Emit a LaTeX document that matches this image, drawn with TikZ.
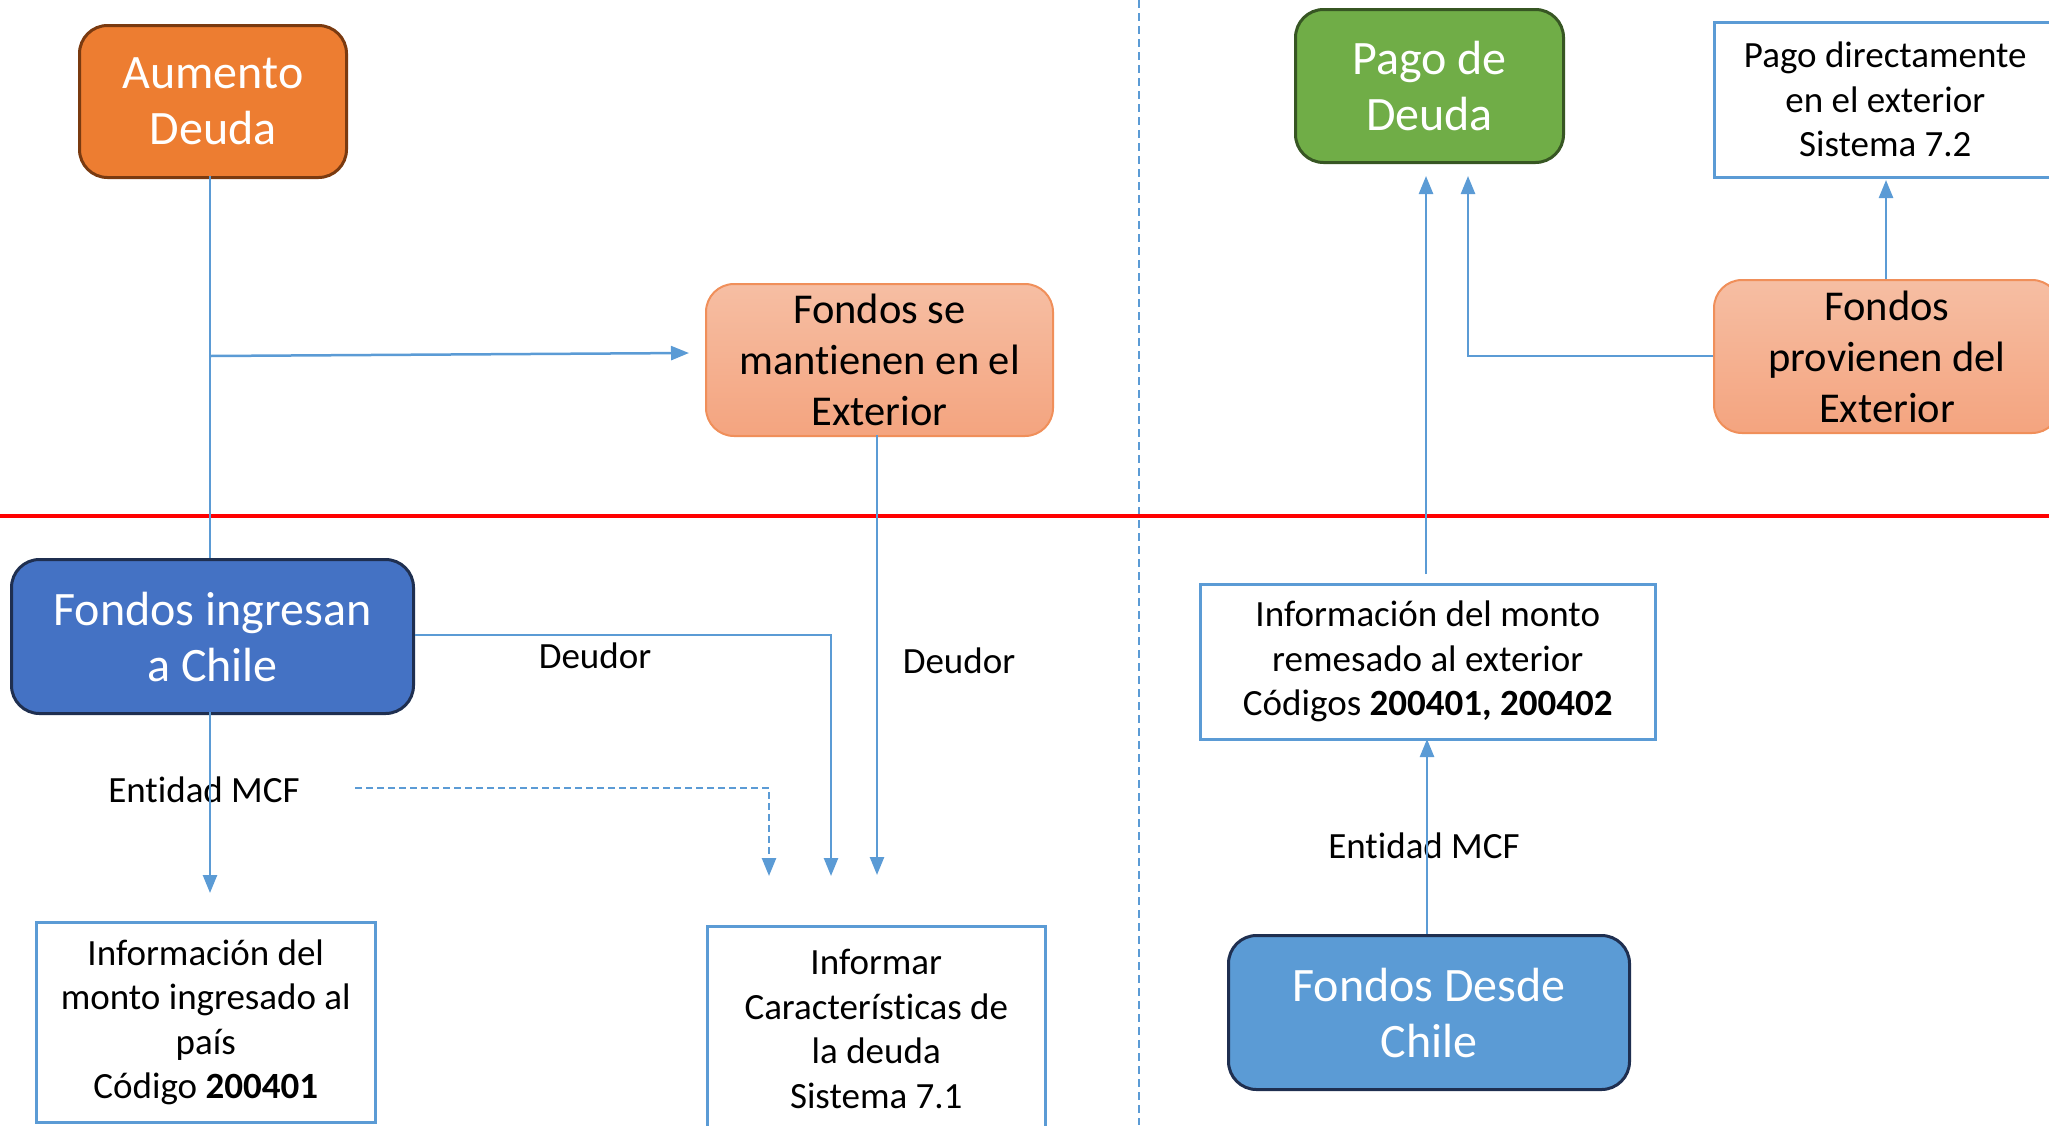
\documentclass[tikz,border=0pt]{standalone}
\usepackage{fontspec}
\setmainfont{Carlito}[Ligatures={NoCommon}]
\usetikzlibrary{arrows.meta}
\definecolor{lineblue}{HTML}{5B9BD5}
\definecolor{aumfill}{HTML}{ED7D31}
\definecolor{aumdraw}{HTML}{7A3A10}
\definecolor{pagofill}{HTML}{70AD47}
\definecolor{pagodraw}{HTML}{375623}
\definecolor{fifill}{HTML}{4472C4}
\definecolor{navy}{HTML}{1F2F50}
\definecolor{fdcfill}{HTML}{5B9BD5}
\definecolor{salmtop}{HTML}{F6BEA3}
\definecolor{salmbot}{HTML}{F4A47F}
\definecolor{salmdraw}{HTML}{F08F5A}
\begin{document}
\begin{tikzpicture}[x=1pt,y=-1pt,
  bigbox/.style={draw, line width=3pt, rounded corners=28pt, text=white,
    font=\fontsize{48}{56}\selectfont, align=center, inner sep=0pt, anchor=north west},
  salmbox/.style={draw=salmdraw, line width=2pt, rounded corners=28pt, top color=salmtop, bottom color=salmbot,
    font=\fontsize{42.5}{51}\selectfont, align=center, inner sep=0pt, anchor=north west},
  wbox/.style={draw=lineblue, line width=2.5pt, fill=white,
    font=\fontsize{37}{44.5}\selectfont, align=center, inner sep=0pt, anchor=north west},
  lbl/.style={font=\fontsize{37}{44.5}\selectfont, inner sep=0pt},
  cline/.style={draw=lineblue, line width=2.5pt},
  arr/.style={cline, -{Triangle[length=18pt,width=14pt]}},
  darr/.style={arr, dash pattern=on 7pt off 4pt}
]
\useasboundingbox (0,0) rectangle (2049,1125);
\clip (0,0) rectangle (2049,1125);

% separators
\coordinate (sepT) at (1139,0);
\coordinate (sepB) at (1139,1125);
\draw[lineblue, line width=1.5pt, dash pattern=on 8pt off 5pt] (sepT) -- (sepB);
\coordinate (redL) at (0,516);
\coordinate (redR) at (2049,516);
\draw[red, line width=4.5pt] (redL) -- (redR);

% nodes
\node[bigbox, fill=aumfill, draw=aumdraw, minimum width=267pt, minimum height=152pt] (aum) at (78,24) {Aumento\\Deuda};
\node[salmbox, minimum width=347pt, minimum height=152pt] (fsm) at (705,283) {Fondos se\\mantienen en el\\Exterior};
\node[bigbox, fill=pagofill, draw=pagodraw, minimum width=268pt, minimum height=153pt] (pago) at (1294,8) {Pago de\\Deuda};
\node[wbox, minimum width=342pt, minimum height=155pt] (pde) at (1713,21) {Pago directamente\\en el exterior\\Sistema 7.2};
\node[salmbox, minimum width=346pt, minimum height=153pt] (fpe) at (1713,279) {Fondos\\provienen del\\Exterior};
\node[bigbox, fill=fifill, draw=navy, minimum width=402pt, minimum height=154pt] (fi) at (10,558) {Fondos ingresan\\a Chile};
\node[wbox, minimum width=455pt, minimum height=155pt] (rem) at (1199,583) {Información del monto\\remesado al exterior\\Códigos \textbf{200401, 200402}};
\node[bigbox, fill=fdcfill, draw=navy, minimum width=401pt, minimum height=154pt] (fdc) at (1227,934) {Fondos Desde\\Chile};
\node[wbox, minimum width=339pt, minimum height=200pt] (ing) at (35,921) {Información del\\monto ingresado al\\país\\Código \textbf{200401}};
\node[wbox, minimum width=338pt, minimum height=205pt] (inf) at (706,925) {Informar\\Características de\\la deuda\\Sistema 7.1};

% labels
\node[lbl] (deu1) at (595,656) {Deudor};
\node[lbl] (deu2) at (959,661) {Deudor};
\node[lbl] (mcf1) at (204,790) {Entidad MCF};
\node[lbl] (mcf2) at (1424,846) {Entidad MCF};

% coordinates for connector ends
\coordinate (aumS) at (210,176);
\coordinate (fiN) at (210,558);
\coordinate (fiS) at (210,712);
\coordinate (aumJ) at (210,356);
\coordinate (fsmTip) at (689,353);
\coordinate (ingTip) at (210,893);
\coordinate (fsmS) at (877,435);
\coordinate (fsmDown) at (877,875);
\coordinate (fiBend) at (831,635);
\coordinate (fiTip) at (831,876);
\coordinate (dStart) at (355,788);
\coordinate (dBend) at (769,788);
\coordinate (dTip) at (769,876);
\coordinate (remUp) at (1426,574);
\coordinate (pagoTip1) at (1426,176);
\coordinate (fpeBend) at (1468,356);
\coordinate (pagoTip2) at (1468,176);
\coordinate (fpeN) at (1886,279);
\coordinate (pdeTip) at (1886,180);
\coordinate (fdcN) at (1427,934);
\coordinate (remTip) at (1427,739);

% connectors
\draw[cline] (aumS) -- (fiN);
\draw[arr] (aumJ) -- (fsmTip);
\draw[arr] (fiS) -- (ingTip);
\draw[arr] (fsmS) -- (fsmDown);
\draw[arr] (fi.east |- fiBend) -- (fiBend) -- (fiTip);
\draw[darr] (dStart) -- (dBend) -- (dTip);
\draw[arr] (remUp) -- (pagoTip1);
\draw[arr] (fpe.west |- fpeBend) -- (fpeBend) -- (pagoTip2);
\draw[arr] (fpeN) -- (pdeTip);
\draw[arr] (fdcN) -- (remTip);
\end{tikzpicture}
\end{document}
